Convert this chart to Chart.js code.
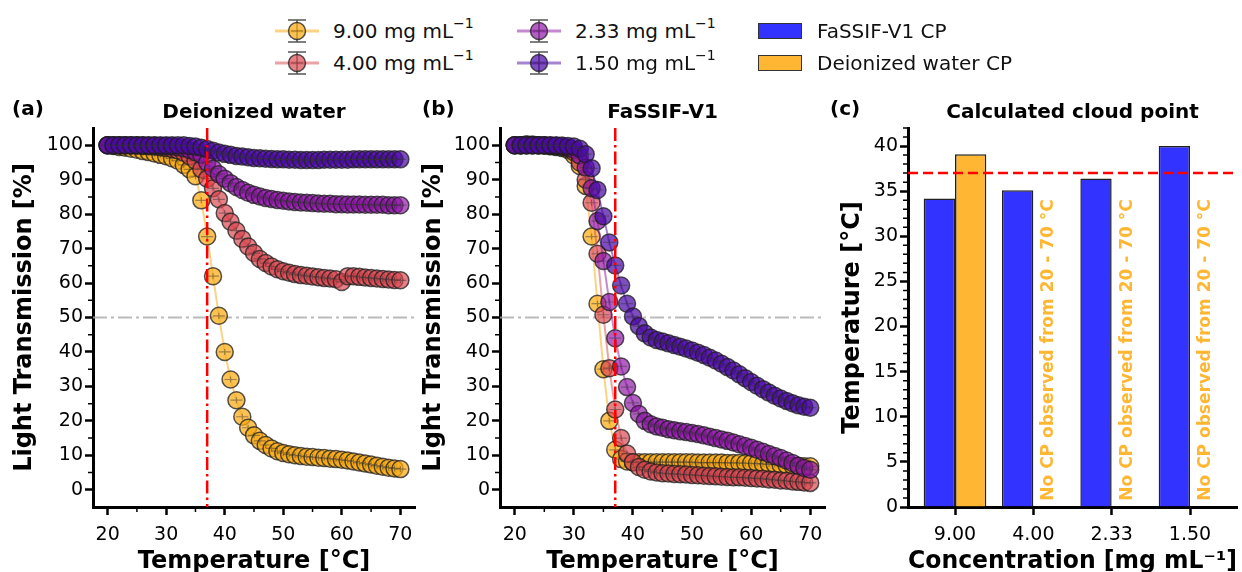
<!DOCTYPE html>
<html lang="en">
<head>
<meta charset="UTF-8">
<title>Cloud point of the formulations</title>
<script src="https://cdn.jsdelivr.net/npm/chart.js"></script>
<style>
  body { margin: 0; background: #fff; font-family: "DejaVu Sans", sans-serif; }
  #wrap { position: relative; width: 1242px; height: 572px; overflow: hidden; background: #fff; }
  canvas { position: absolute; }
  .leg { position: absolute; font-size: 20px; line-height: 20px; color: #111; white-space: nowrap; }
  .leg sup { font-size: 14px; line-height: 0; position: relative; top: -2px; }
  .icon { position: absolute; }
</style>
</head>
<body>
<div id="wrap">
  <canvas id="chartA" width="425" height="492" style="left:0;top:80px"></canvas>
  <canvas id="chartB" width="420" height="492" style="left:415px;top:80px"></canvas>
  <canvas id="chartC" width="416" height="492" style="left:826px;top:80px"></canvas>
</div>
<script>
// ---- data ----
const TEMPS = [20, 21, 22, 23, 24, 25, 26, 27, 28, 29, 30, 31, 32, 33, 34, 35, 36, 37, 38, 39, 40,
  41, 42, 43, 44, 45, 46, 47, 48, 49, 50, 51, 52, 53, 54, 55, 56, 57, 58, 59, 60,
  61, 62, 63, 64, 65, 66, 67, 68, 69, 70];

const SERIES_LABELS = ['9.00', '4.00', '2.33', '1.50'];

// (a) deionized water, light transmission %
const WATER_900 = [100, 99.8, 99.5, 99.3, 99.0, 98.7, 98.3, 98.0, 97.6, 97.2, 96.8, 96.2, 95.5, 94.3, 93.0, 91.0, 84.0, 73.5, 62.0, 50.5, 40.0,
  32.0, 26.0, 21.2, 18.0, 15.8, 14.2, 13.0, 12.0, 11.2, 10.7, 10.3, 10.0, 9.8, 9.6, 9.5, 9.3, 9.2, 9.0, 8.9, 8.7,
  8.5, 8.2, 7.9, 7.6, 7.3, 7.0, 6.7, 6.4, 6.2, 6.0];
const WATER_400 = [100, 100, 100, 100, 99.9, 99.9, 99.8, 99.7, 99.6, 99.4, 99.2, 98.9, 98.5, 97.8, 96.8, 95.5, 93.0, 90.3, 87.5, 84.3, 80.3,
  77.8, 75.2, 72.8, 70.6, 68.7, 67.0, 65.8, 64.8, 64.0, 63.4, 63.0, 62.6, 62.3, 62.1, 61.9, 61.7, 61.5, 61.3, 61.1, 60.3,
  62.0, 62.0, 61.8, 61.6, 61.5, 61.3, 61.2, 61.0, 60.9, 60.8];
const WATER_233 = [100, 100, 100, 100, 100, 100, 100, 99.9, 99.9, 99.8, 99.7, 99.6, 99.4, 99.1, 98.6, 98.0, 97.2, 95.0, 93.2, 91.6, 90.3,
  89.0, 87.9, 87.0, 86.2, 85.6, 85.1, 84.7, 84.4, 84.1, 83.9, 83.7, 83.5, 83.4, 83.3, 83.2, 83.1, 83.0, 83.0, 82.9, 82.9,
  82.8, 82.8, 82.8, 82.7, 82.7, 82.7, 82.7, 82.6, 82.6, 82.6];
const WATER_150 = [100, 100, 100, 100, 100, 100, 100, 100, 100, 100, 100, 100, 100, 100, 99.8, 99.6, 99.3, 98.9, 98.4, 97.9, 97.5,
  97.2, 96.9, 96.7, 96.5, 96.3, 96.2, 96.1, 96.0, 95.9, 95.9, 95.8, 95.8, 95.7, 95.7, 95.7, 95.7, 95.8, 95.8, 95.8, 95.8,
  95.8, 95.9, 95.9, 95.9, 95.9, 95.9, 95.9, 95.9, 95.9, 95.9];

// (b) FaSSIF-V1, light transmission %
const FASSIF_900 = [100, 100, 100.3, 100.2, 100, 99.9, 99.7, 99.5, 99.2, 98.6, 97.0, 94.0, 88.2, 73.5, 54.0, 35.0, 20.0, 11.6, 8.9, 8.2, 8.0,
  8.0, 8.0, 8.0, 8.0, 8.0, 8.0, 8.0, 8.0, 8.0, 8.0, 7.9, 7.9, 7.9, 7.9, 7.9, 7.8, 7.8, 7.8, 7.7, 7.7,
  7.6, 7.5, 7.4, 7.3, 7.2, 7.1, 7.0, 6.9, 6.8, 6.8];
const FASSIF_400 = [100, 100, 100, 100, 100, 99.9, 99.8, 99.6, 99.4, 99.0, 98.0, 95.0, 90.0, 83.3, 68.5, 50.8, 35.3, 23.3, 15.0, 10.5, 8.0,
  6.6, 5.8, 5.3, 5.0, 4.8, 4.7, 4.6, 4.5, 4.4, 4.3, 4.2, 4.1, 4.0, 3.9, 3.8, 3.7, 3.6, 3.6, 3.5, 3.4,
  3.3, 3.2, 3.0, 2.9, 2.7, 2.6, 2.4, 2.3, 2.1, 2.0];
const FASSIF_233 = [100, 100, 100, 100, 100, 100, 99.9, 99.8, 99.6, 99.3, 98.7, 97.0, 93.5, 87.5, 78.0, 66.4, 54.5, 44.0, 35.8, 29.8, 25.2,
  22.0, 20.0, 19.0, 18.4, 18.0, 17.6, 17.3, 17.0, 16.8, 16.5, 16.2, 15.8, 15.4, 15.0, 14.6, 14.2, 13.7, 13.2, 12.7, 12.2,
  11.6, 11.0, 10.4, 9.8, 9.2, 8.5, 7.8, 7.0, 6.3, 5.8];
const FASSIF_150 = [100, 100, 100, 100, 100, 100, 100, 100, 99.9, 99.8, 99.6, 99.0, 97.4, 93.3, 87.0, 79.4, 71.8, 65.1, 59.3, 54.0, 50.3,
  47.5, 45.4, 44.2, 43.5, 43.0, 42.5, 42.0, 41.5, 41.0, 40.4, 39.8, 39.1, 38.3, 37.5, 36.6, 35.6, 34.6, 33.5, 32.4, 31.3,
  30.2, 29.2, 28.2, 27.3, 26.5, 25.8, 25.1, 24.5, 24.1, 23.8];

// (c) calculated cloud point, °C
const CONC_LABELS = ['9.00', '4.00', '2.33', '1.50'];
const CP_FASSIF = [34.2, 35.1, 36.4, 40.0];
const CP_WATER = [39.1, null, null, null];
const NO_CP_NOTE = 'No CP observed from 20 - 70 °C';

// ticks and reference lines
const TEMP_TICKS = [20, 30, 40, 50, 60, 70];
const TEMP_MINOR = [25, 35, 45, 55, 65];
const LT_TICKS = [0, 10, 20, 30, 40, 50, 60, 70, 80, 90, 100];
const LT_MINOR = [5, 15, 25, 35, 45, 55, 65, 75, 85, 95];
const CP_TICKS = [0, 5, 10, 15, 20, 25, 30, 35, 40];
const CP_MINOR = [1, 2, 3, 4, 6, 7, 8, 9, 11, 12, 13, 14, 16, 17, 18, 19, 21, 22, 23, 24,
  26, 27, 28, 29, 31, 32, 33, 34, 36, 37, 38, 39, 41, 42];
const BODY_TEMP = 37;
const HALF_LT = 50;

// ---- style ----
const FILLS = ['rgba(250,170,20,0.72)', 'rgba(215,70,78,0.68)', 'rgba(140,20,165,0.68)', 'rgba(75,10,165,0.72)'];
const LINES = ['rgba(250,175,30,0.55)', 'rgba(215,70,78,0.5)', 'rgba(140,20,165,0.5)', 'rgba(75,10,165,0.5)'];
const EDGE = 'rgba(30,30,30,0.75)';
const BLUE = 'rgba(0,0,255,0.8)';
const ORANGE = 'rgba(255,165,0,0.8)';
const FONT = "'DejaVu Sans', sans-serif";

Chart.defaults.font.family = FONT;
Chart.defaults.color = '#000';

const decor = {
  id: 'decor',
  beforeDatasetsDraw(chart, args, o) {
    const {ctx, chartArea: a, scales} = chart;
    if (o.grayAt != null) {
      const py = scales.y.getPixelForValue(o.grayAt);
      ctx.save();
      ctx.strokeStyle = 'rgba(170,170,170,0.8)';
      ctx.lineWidth = 2;
      ctx.setLineDash([14, 4, 3, 4]);
      ctx.beginPath(); ctx.moveTo(a.left, py); ctx.lineTo(a.right, py); ctx.stroke();
      ctx.restore();
    }
  },
  afterDatasetDraw(chart, args) {
    const meta = args.meta;
    if (meta.type !== 'line') return;
    const ctx = chart.ctx;
    ctx.save();
    ctx.strokeStyle = 'rgba(50,50,50,0.45)';
    ctx.lineWidth = 1.2;
    meta.data.forEach(p => {
      ctx.beginPath();
      ctx.moveTo(p.x - 6, p.y); ctx.lineTo(p.x + 6, p.y);
      ctx.moveTo(p.x, p.y - 3); ctx.lineTo(p.x, p.y + 3);
      ctx.stroke();
    });
    ctx.restore();
  },
  afterDatasetsDraw(chart, args, o) {
    const {ctx, chartArea: a, scales: {x, y}} = chart;
    ctx.save();
    if (o.redV != null) {
      const px = x.getPixelForValue(o.redV);
      ctx.strokeStyle = '#ff0000';
      ctx.lineWidth = 2.5;
      ctx.setLineDash([13, 4, 2.5, 4]);
      ctx.beginPath(); ctx.moveTo(px, a.top); ctx.lineTo(px, a.bottom); ctx.stroke();
    }
    if (o.redH != null) {
      const py = y.getPixelForValue(o.redH);
      ctx.strokeStyle = '#ff0000';
      ctx.lineWidth = 2.5;
      ctx.setLineDash([10, 5]);
      ctx.beginPath(); ctx.moveTo(a.left, py); ctx.lineTo(a.right, py); ctx.stroke();
    }
    ctx.setLineDash([]);
    if (o.notes) {
      ctx.fillStyle = ORANGE;
      ctx.font = 'bold 17px ' + FONT;
      ctx.textAlign = 'left';
      ctx.textBaseline = 'middle';
      o.notes.forEach(n => {
        ctx.save();
        ctx.translate(x.getPixelForValue(n.x), y.getPixelForValue(n.y));
        ctx.rotate(-Math.PI / 2);
        ctx.fillText(n.text, 0, 0);
        ctx.restore();
      });
    }
    ctx.restore();
  },
  afterDraw(chart, args, o) {
    const {ctx, chartArea: a, scales: {x, y}} = chart;
    ctx.save();
    ctx.strokeStyle = '#000';
    ctx.lineWidth = 1.5;
    ctx.beginPath();
    (o.minorX || []).forEach(v => {
      const px = x.getPixelForValue(v);
      ctx.moveTo(px, a.bottom); ctx.lineTo(px, a.bottom + 5);
    });
    (o.minorY || []).forEach(v => {
      const py = y.getPixelForValue(v);
      ctx.moveTo(a.left, py); ctx.lineTo(a.left - 5, py);
    });
    ctx.stroke();
    ctx.fillStyle = '#000';
    ctx.textBaseline = 'middle';
    ctx.font = 'bold 20px ' + FONT;
    ctx.textAlign = 'center';
    ctx.fillText(o.title, (a.left + a.right) / 2, 33);
    ctx.font = 'bold 20px ' + FONT;
    ctx.textAlign = 'left';
    ctx.fillText(o.tag, o.tagX, 30);
    ctx.restore();
  }
};

function fixedTicks(list) {
  return scale => { scale.ticks = list.map(v => ({value: v})); };
}

function xScale(min, max, ticks, title, fmt) {
  return {
    type: 'linear', min: min, max: max, offset: false,
    afterBuildTicks: fixedTicks(ticks),
    afterFit: s => { s.height = 65; },
    grid: {drawOnChartArea: false, color: '#000', tickLength: 8, tickWidth: 2.5, offset: false},
    border: {display: true, color: '#000', width: 3},
    ticks: {font: {size: 19}, padding: 9, maxRotation: 0, autoSkip: false, callback: fmt},
    title: {display: true, text: title, font: {size: 24, weight: 'bold', lineHeight: 1.2}, padding: {top: 0, bottom: -4}}
  };
}

function yScale(min, max, ticks, title, width, titlePad) {
  return {
    type: 'linear', min: min, max: max,
    afterBuildTicks: fixedTicks(ticks),
    afterFit: s => { s.width = width; },
    grid: {drawOnChartArea: false, color: '#000', tickLength: 8, tickWidth: 2.5},
    border: {display: true, color: '#000', width: 3},
    ticks: {font: {size: 19}, padding: 2, autoSkip: false, callback: v => String(v)},
    title: {display: true, text: title, font: {size: 24, weight: 'bold', lineHeight: 1.2}, padding: {top: titlePad, bottom: 0}}
  };
}

function lineSets(series) {
  return series.map((vals, i) => ({
    label: SERIES_LABELS[i] + ' mg mL⁻¹',
    data: TEMPS.map((t, k) => ({x: t, y: vals[k]})),
    order: series.length - 1 - i,
    borderColor: LINES[i],
    borderWidth: 2,
    backgroundColor: FILLS[i],
    pointBackgroundColor: FILLS[i],
    pointBorderColor: EDGE,
    pointBorderWidth: 1.5,
    pointRadius: 8.5,
    clip: false
  }));
}

function transmissionChart(id, series, title, tag, tagX, yWidth, titlePad, padRight) {
  return new Chart(document.getElementById(id), {
    type: 'line',
    data: {datasets: lineSets(series)},
    plugins: [decor],
    options: {
      responsive: false, animation: false, devicePixelRatio: 1,
      layout: {padding: {top: 48, right: padRight, left: 0, bottom: 0}},
      scales: {
        x: xScale(17.5, 72.5, TEMP_TICKS, 'Temperature [°C]', v => String(v)),
        y: yScale(-5, 105, LT_TICKS, 'Light Transmission [%]', yWidth, titlePad)
      },
      plugins: {
        legend: {display: false}, tooltip: {enabled: false},
        decor: {title: title, tag: tag, tagX: tagX, grayAt: HALF_LT, redV: BODY_TEMP,
          minorX: TEMP_MINOR, minorY: LT_MINOR}
      }
    }
  });
}

transmissionChart('chartA', [WATER_900, WATER_400, WATER_233, WATER_150], 'Deionized water', '(a)', 12, 93, 10, 5);
transmissionChart('chartB', [FASSIF_900, FASSIF_400, FASSIF_233, FASSIF_150], 'FaSSIF-V1', '(b)', 7, 85, 4, 7);

new Chart(document.getElementById('chartC'), {
  type: 'bar',
  data: {
    datasets: [
      {label: 'FaSSIF-V1 CP', data: CP_FASSIF.map((v, i) => ({x: i, y: v})),
        backgroundColor: BLUE, borderColor: '#222', borderWidth: 1.5},
      {label: 'Deionized water CP', data: CP_WATER.map((v, i) => ({x: i, y: v})),
        backgroundColor: ORANGE, borderColor: '#222', borderWidth: 1.5}
    ]
  },
  plugins: [decor],
  options: {
    responsive: false, animation: false, devicePixelRatio: 1,
    categoryPercentage: 0.8, barPercentage: 1,
    layout: {padding: {top: 48, right: 5, left: 0, bottom: 0}},
    scales: {
      x: xScale(-0.6, 3.6, [0, 1, 2, 3], 'Concentration [mg mL⁻¹]', v => CONC_LABELS[v]),
      y: yScale(0, 42, CP_TICKS, 'Temperature [°C]', 82, 12)
    },
    plugins: {
      legend: {display: false}, tooltip: {enabled: false},
      decor: {title: 'Calculated cloud point', tag: '(c)', tagX: 4, redH: BODY_TEMP,
        minorY: CP_MINOR,
        notes: [1, 2, 3].map(i => ({x: i + 0.2, y: 0.7, text: NO_CP_NOTE}))}
    }
  }
});

// ---- legend (html) ----
const wrap = document.getElementById('wrap');
const LEG_POS = [[275, 333, 31], [275, 333, 63], [517, 575, 31], [517, 575, 63]];
SERIES_LABELS.forEach((lab, i) => {
  const [ix, tx, cy] = LEG_POS[i];
  const svg = `<svg class="icon" width="44" height="30" style="left:${ix}px;top:${cy - 15}px">
    <line x1="0" y1="15" x2="44" y2="15" stroke="${LINES[i]}" stroke-width="3"/>
    <line x1="22" y1="4" x2="22" y2="26" stroke="#555" stroke-width="1.5"/>
    <line x1="13" y1="4" x2="31" y2="4" stroke="#555" stroke-width="1.5"/>
    <line x1="13" y1="26" x2="31" y2="26" stroke="#555" stroke-width="1.5"/>
    <circle cx="22" cy="15" r="8.5" fill="${FILLS[i]}" stroke="${EDGE}" stroke-width="1.5"/>
    <line x1="16" y1="15" x2="28" y2="15" stroke="rgba(50,50,50,0.45)" stroke-width="1.2"/>
  </svg>`;
  wrap.insertAdjacentHTML('beforeend', svg +
    `<div class="leg" style="left:${tx}px;top:${cy - 10}px">${lab} mg mL<sup>−1</sup></div>`);
});
[['FaSSIF-V1 CP', BLUE, 31], ['Deionized water CP', ORANGE, 63]].forEach(([lab, col, cy]) => {
  wrap.insertAdjacentHTML('beforeend',
    `<div style="position:absolute;left:758px;top:${cy - 8}px;width:42px;height:14px;background:${col};border:1.5px solid #333"></div>` +
    `<div class="leg" style="left:817px;top:${cy - 10}px">${lab}</div>`);
});
</script>
</body>
</html>
